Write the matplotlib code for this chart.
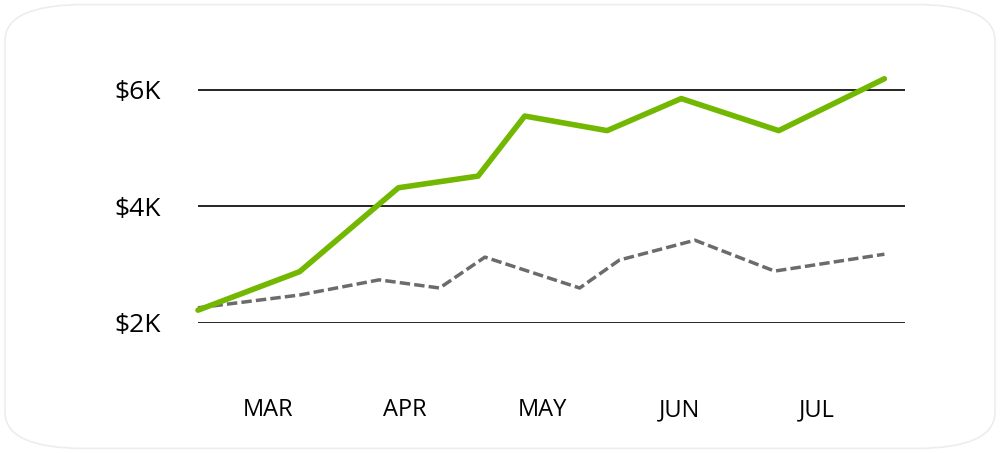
import matplotlib
matplotlib.use("Agg")
import matplotlib.pyplot as plt
from matplotlib.patches import FancyBboxPatch

months = ["MAR", "APR", "MAY", "JUN", "JUL"]
green_x = [-0.51, 0.23, 0.95, 1.53, 1.87, 2.47, 3.01, 3.72, 4.49]
green_y = [2.22, 2.88, 4.32, 4.52, 5.55, 5.30, 5.85, 5.30, 6.19]
gray_x = [-0.51, 0.23, 0.81, 1.25, 1.58, 2.27, 2.56, 3.11, 3.69, 4.49]
gray_y = [2.26, 2.48, 2.74, 2.60, 3.13, 2.60, 3.08, 3.42, 2.89, 3.18]
yticks = [2, 4, 6]
ylabels = ["$2K", "$4K", "$6K"]

plt.rcParams['font.family'] = ['Open Sans', 'DejaVu Sans']
fig = plt.figure(figsize=(10, 4.53), dpi=100)
fig.patches.append(FancyBboxPatch((0.005, 0.01), 0.99, 0.98, boxstyle="round,pad=0,rounding_size=0.08",
                                  transform=fig.transFigure, fc="white", ec="#ededed", lw=1.2, zorder=-10))
ax = fig.add_axes([0.198, 0.287, 0.707, 0.581])
ax.set_zorder(5)
ax.set_facecolor("none")
ax.plot(gray_x, gray_y, color="#6b6b6b", lw=2.5, ls=(0, (3, 1.2)), clip_on=False, zorder=3)
ax.plot(green_x, green_y, color="#72b700", lw=4, clip_on=False, zorder=4, solid_capstyle="round")
ax.set_xlim(-0.51, 4.64)
ax.set_ylim(2, 6.515)
ax.set_yticks(yticks)
ax.set_yticklabels(ylabels, fontsize=19)
ax.set_xticks(range(len(months)))
ax.set_xticklabels(months, fontsize=17)
ax.tick_params(axis="y", length=0, pad=27)
ax.tick_params(axis="x", length=0, pad=54)
for s in ax.spines.values():
    s.set_visible(False)
ax.grid(axis="y", color="black", lw=1.2)
ax.set_axisbelow(True)
fig.savefig("out.png", dpi=100)
